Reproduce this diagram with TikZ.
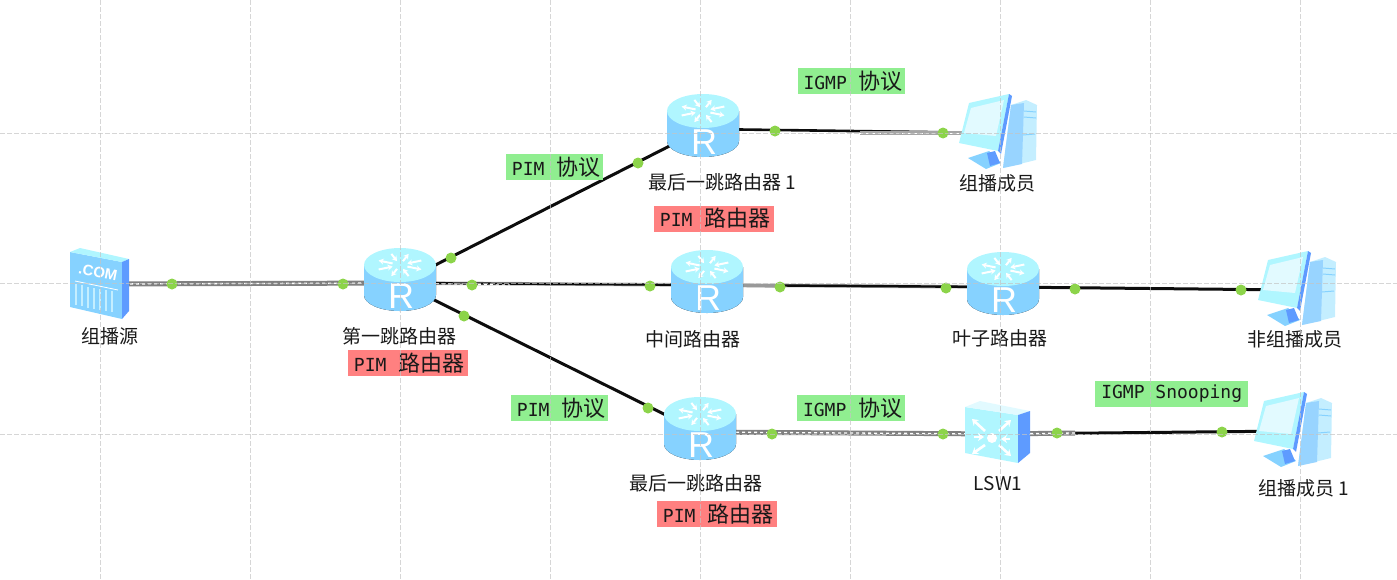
\documentclass[tikz,border=0pt]{standalone}
\usepackage{fontspec}
\setmainfont{Noto Sans CJK SC}
\newfontfamily\monof{DejaVu Sans Mono}
\newfontfamily\latf{Liberation Sans}
\newcommand\tagtext{\monof\fontsize{18}{20}\selectfont}
\usetikzlibrary{arrows.meta}
\definecolor{tagg}{HTML}{90EE90}
\definecolor{tagr}{HTML}{FF8080}
\definecolor{dotc}{HTML}{8CD44A}
\definecolor{icoa}{HTML}{B0F6FF}
\definecolor{icob}{HTML}{86D2FF}
\definecolor{icoc}{HTML}{C4EEFF}
\definecolor{icod}{HTML}{5E9BFF}
\definecolor{icoe}{HTML}{E2FAFF}
\definecolor{icof}{HTML}{98D4FF}
\definecolor{gridc}{HTML}{C4C4C4}
\tikzset{
  devbox/.style={inner sep=0pt,minimum size=4pt},
  dotn/.style={circle,fill=dotc,inner sep=0pt,minimum size=11pt},
  linkb/.style={black!95,line width=3pt},
  linkg/.style={gray,line width=5pt},
  linkw/.style={white,line width=1.3pt,dash pattern=on 3pt off 3pt},
  devlabel/.style={font=\fontsize{19}{21}\selectfont,text=black!90,inner sep=0pt},
  tag/.style={inner sep=0pt,minimum height=26pt,anchor=west,text=black!90,font=\fontsize{22}{24}\selectfont},
  gridline/.style={gridc,line width=1pt,dash pattern=on 5pt off 2pt,opacity=.7},
  whitearrow/.style={white,line width=2pt,-{Stealth[length=5pt,width=6pt]}},
  routerpic/.pic={
    \fill[left color=icob,middle color=icoc,right color=icob] (-36,-18) -- (-36,12) arc[start angle=180,end angle=0,x radius=36,y radius=16] -- (36,-18) -- cycle;
    \fill[icoa] (0,-18) ellipse[x radius=36,y radius=17];
    \foreach \a in {0,90,180,270}{
      \begin{scope}[shift={(0,-18)},yscale=.52]
        \draw[whitearrow] ({\a+22}:8) -- ({\a+22}:23);
        \draw[whitearrow] ({\a-22}:23) -- ({\a-22}:8);
      \end{scope}}
    \node[text=white,inner sep=0pt,font=\latf\fontsize{36}{36}\selectfont] at (1,13) {R};
  },
  pcpic/.pic={
    \fill[icoc] (13,-28) -- (28,-33) -- (39,-28) -- (38,27) -- (5,35) -- cycle;
    \fill[icof] (13,-28) -- (26,-30) -- (24,31) -- (5,35) -- cycle;
    \draw[icob,line width=1pt] (26,-22) -- (38,-21) (26,-16) -- (38,-15) (25,2) -- (37,1);
    \fill[icob] (-30,25) -- (-9,18) -- (3,30) -- (-12,36) -- cycle;
    \fill[icod] (-11,20) -- (-3,18) -- (2,30) -- (-8,33) -- cycle;
    \fill[icoa] (-29,-30) -- (11,-39) -- (0,18) -- (-39,10) -- cycle;
    \fill[icoe] (-27,-25) -- (6,-33) -- (-2,3) -- (-34,0) -- cycle;
    \fill[icod] (11,-39) -- (14,-37) -- (3,21) -- (0,18) -- cycle;
  },
  srvpic/.pic={
    \fill[icob] (-30,-32) -- (22,-22) -- (22,35) -- (-30,23) -- cycle;
    \fill[icoa] (-30,-32) -- (-20,-36) -- (29,-25) -- (22,-22) -- cycle;
    \fill[icod] (22,-22) -- (29,-25) -- (29,27) -- (22,35) -- cycle;
    \node[text=white,rotate=-11,inner sep=0pt,font=\latf\bfseries\fontsize{15}{15}\selectfont] at (-2,-12) {.COM};
    \draw[white,line width=.8pt] (-25,-3) -- (18,6);
    \foreach \i in {-24,-18,...,16}{\draw[icoc,line width=1.6pt] (\i,{5+.2*\i}) -- (\i,{26+.2*\i});}
  },
  swpic/.pic={
    \fill[icoa] (-35,-27) -- (18,-19) -- (18,29) -- (-35,19) -- cycle;
    \fill[icoe] (-35,-27) -- (-20,-33) -- (30,-23) -- (18,-19) -- cycle;
    \fill[icod] (18,-19) -- (30,-23) -- (30,19) -- (18,29) -- cycle;
    \fill[white] (-8,4) circle[radius=5];
    \begin{scope}[line width=2.6pt,white,-{Stealth[length=6pt,width=8pt]}]
      \draw (-15,-3) -- (-28,-15);
      \draw (-1,-3) -- (11,-14);
      \draw (-15,11) -- (-28,20);
      \draw (-1,11) -- (11,22);
      \draw (-26,3) -- (-16,3);
      \draw (10,5) -- (1,5);
    \end{scope}
  },
}
\begin{document}
\begin{tikzpicture}[x=1pt,y=-1pt]
\useasboundingbox (0,0) rectangle (1397,579);
% anchors of the devices
\node[devbox] (src) at (100,284) {};
\node[devbox] (r1) at (400,283) {};
\node[devbox] (rt) at (703,129) {};
\node[devbox] (rm) at (707,285) {};
\node[devbox] (lf) at (1003,287) {};
\node[devbox] (rb) at (700,432) {};
\node[devbox] (sw) at (1000,434) {};
\node[devbox] (pt) at (998,133) {};
\node[devbox] (pm) at (1297,290) {};
\node[devbox] (pb) at (1293,431) {};
% change-over points of the connectors
\coordinate (g1) at (510,285);
\coordinate (g2) at (860,133);
\coordinate (g3) at (780,286);
\coordinate (g4) at (1075,433);
% connectors
\draw[linkb] (r1.center) -- (rt.center);
\draw[linkb] (r1.center) -- (rb.center);
\draw[gray!60,line width=3.6pt] (r1.center) -- (rm.center);
\draw[linkb,line width=2.2pt] (r1.center) -- (rm.center);
\draw[linkw,line width=1pt] (r1.center) -- (g1);
\draw[linkb,line width=2.6pt] (rt.center) -- (pt.center);
\draw[gray!60,line width=3.6pt] (rm.center) -- (lf.center);
\draw[linkb,line width=2.4pt] (rm.center) -- (lf.center);
\draw[linkb] (lf.center) -- (pm.center);
\draw[linkb] (sw.center) -- (pb.center);
\draw[linkg] (src.center) -- (r1.center);
\draw[linkw] (src.center) -- (r1.center);
\draw[linkg] (rb.center) -- (sw.center);
\draw[linkw] (rb.center) -- (sw.center);
\draw[linkg] (sw.center) -- (g4);
\draw[linkw] (sw.center) -- (g4);
\draw[gray!70,line width=3.4pt] (g2) -- (pt.center);
\draw[linkw,line width=1pt] (g2) -- (pt.center);
\draw[gray!80,line width=3.4pt] (rm.center) -- (g3);
% devices
\pic at (src) {srvpic};
\pic at (r1) {routerpic};
\pic at (rt) {routerpic};
\pic at (rm) {routerpic};
\pic at (lf) {routerpic};
\pic at (rb) {routerpic};
\pic at (sw) {swpic};
\pic at (pt) {pcpic};
\pic at (pm) {pcpic};
\pic at (pb) {pcpic};
% port dots
\foreach \n/\p in {a/{172,284},b/{343,284},c/{451,258},d/{472,285},e/{464,316},f/{638,163},g/{650,286},h/{648,408},i/{775,131},j/{943,133},k/{780,287},l/{946,288},m/{1075,289},n/{1241,290},o/{772,434},q/{943,434},r/{1057,433},s/{1222,432}}
  \node[dotn] (dot\n) at (\p) {};
% device labels
\node[devlabel] (l1) at (110,336) {组播源};
\node[devlabel] (l2) at (399,336) {第一跳路由器};
\node[devlabel] (l3) at (722,182) {最后一跳路由器 1};
\node[devlabel] (l4) at (997,183) {组播成员};
\node[devlabel] (l5) at (693,339) {中间路由器};
\node[devlabel] (l6) at (1000,338) {叶子路由器};
\node[devlabel] (l7) at (1295,339) {非组播成员};
\node[devlabel] (l8) at (696,483) {最后一跳路由器};
\node[devlabel] (l9) at (998,484) {LSW1};
\node[devlabel] (l10) at (1304,488) {组播成员 1};
% tags
\node[tag,fill=tagg,minimum width=97pt] (t1) at (506,167) {\hspace{3pt}{\tagtext PIM}\hspace{12pt}协议};
\node[tag,fill=tagg,minimum width=97pt] (t2) at (511,408) {\hspace{3pt}{\tagtext PIM}\hspace{12pt}协议};
\node[tag,fill=tagg,minimum width=107pt] (t3) at (798,81) {\hspace{3pt}{\tagtext IGMP}\hspace{12pt}协议};
\node[tag,fill=tagg,minimum width=108pt] (t4) at (797,408) {\hspace{3pt}{\tagtext IGMP}\hspace{12pt}协议};
\node[tag,fill=tagg,minimum width=153pt] (t5) at (1095,394) {\tagtext IGMP Snooping};
\node[tag,fill=tagr,minimum width=120pt] (t6) at (654,218.5) {\hspace{2pt}{\tagtext PIM}\hspace{12pt}路由器};
\node[tag,fill=tagr,minimum width=120pt] (t7) at (348,363) {\hspace{2pt}{\tagtext PIM}\hspace{12pt}路由器};
\node[tag,fill=tagr,minimum width=120pt] (t8) at (657,514) {\hspace{2pt}{\tagtext PIM}\hspace{12pt}路由器};
% grid
\foreach \x in {100,250,...,1300} \draw[gridline] (\x,0) -- (\x,579);
\foreach \y in {133,283,434} \draw[gridline] (0,\y) -- (1397,\y);
\end{tikzpicture}
\end{document}
